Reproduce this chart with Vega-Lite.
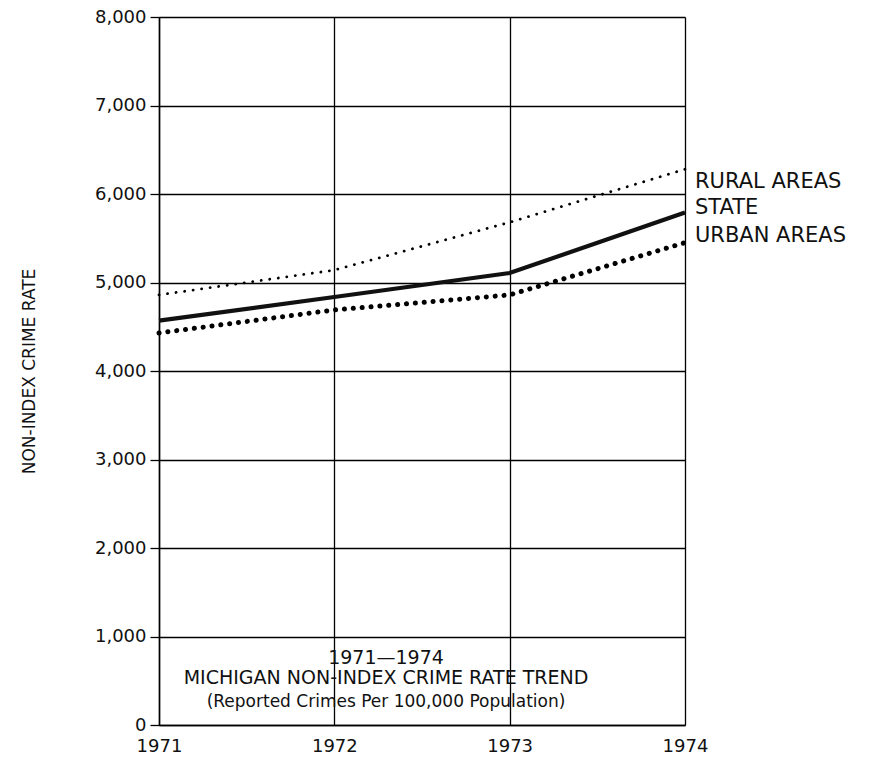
{
  "$schema": "https://vega.github.io/schema/vega-lite/v6.json",
  "width": 526,
  "height": 708,
  "autosize": {"type": "none"},
  "padding": {"left": 159, "top": 17, "right": 184, "bottom": 33},
  "background": "white",
  "config": {
    "view": {"stroke": null},
    "font": "DejaVu Sans",
    "axis": {"labelFont": "DejaVu Sans", "titleFont": "DejaVu Sans", "labelColor": "#111", "titleColor": "#111"}
  },
  "title": {
    "text": ["1971—1974", "MICHIGAN NON-INDEX CRIME RATE TREND"],
    "subtitle": "(Reported Crimes Per 100,000 Population)",
    "orient": "bottom",
    "anchor": "middle",
    "frame": "group",
    "offset": -106,
    "dx": -36,
    "font": "DejaVu Sans",
    "subtitleFont": "DejaVu Sans",
    "fontSize": 19,
    "fontWeight": "normal",
    "lineHeight": 20,
    "color": "#111",
    "subtitleFontSize": 17,
    "subtitleColor": "#111",
    "subtitlePadding": 6
  },
  "data": {
    "values": [
      {"year": 1971, "series": "RURAL AREAS", "rate": 4860},
      {"year": 1972, "series": "RURAL AREAS", "rate": 5140},
      {"year": 1973, "series": "RURAL AREAS", "rate": 5680},
      {"year": 1974, "series": "RURAL AREAS", "rate": 6280},
      {"year": 1971, "series": "STATE", "rate": 4570},
      {"year": 1972, "series": "STATE", "rate": 4836},
      {"year": 1973, "series": "STATE", "rate": 5107},
      {"year": 1974, "series": "STATE", "rate": 5790},
      {"year": 1971, "series": "URBAN AREAS", "rate": 4430},
      {"year": 1972, "series": "URBAN AREAS", "rate": 4690},
      {"year": 1973, "series": "URBAN AREAS", "rate": 4860},
      {"year": 1974, "series": "URBAN AREAS", "rate": 5450}
    ]
  },
  "encoding": {
    "x": {
      "field": "year", "type": "quantitative",
      "scale": {"domain": [1971, 1974], "nice": false, "zero": false},
      "axis": {
        "values": [1971, 1972, 1973, 1974], "format": "d", "title": null,
        "grid": true, "gridColor": "#000", "gridWidth": 1.3, "gridOpacity": 1,
        "domainColor": "#000", "domainWidth": 1.5, "ticks": false,
        "labelFontSize": 18, "labelPadding": 12, "labelFlush": false
      }
    },
    "y": {
      "field": "rate", "type": "quantitative",
      "scale": {"domain": [0, 8000], "nice": false},
      "axis": {
        "values": [0, 1000, 2000, 3000, 4000, 5000, 6000, 7000, 8000], "format": ",d",
        "title": "NON-INDEX CRIME RATE", "titleFontSize": 17, "titleFontWeight": "normal",
        "titlePadding": 56, "grid": true, "gridColor": "#000", "gridWidth": 1.3, "gridOpacity": 1,
        "domainColor": "#000", "domainWidth": 1.5, "tickColor": "#000", "tickSize": 9, "tickWidth": 1.3,
        "labelFontSize": 18, "labelPadding": 4
      }
    }
  },
  "layer": [
    {
      "transform": [{"filter": "datum.series === 'RURAL AREAS'"}],
      "mark": {"type": "line", "color": "#000", "strokeWidth": 2.8, "strokeCap": "round", "strokeDash": [0.1, 8.5]}
    },
    {
      "transform": [{"filter": "datum.series === 'URBAN AREAS'"}],
      "mark": {"type": "line", "color": "#000", "strokeWidth": 5, "strokeCap": "round", "strokeDash": [0.1, 8.8]}
    },
    {
      "transform": [{"filter": "datum.series === 'STATE'"}],
      "mark": {"type": "line", "color": "#111", "strokeWidth": 4.2}
    },
    {
      "transform": [{"filter": "datum.series === 'RURAL AREAS' && datum.year === 1974"}],
      "mark": {"type": "text", "align": "left", "baseline": "middle", "dx": 10, "dy": 13, "fontSize": 21, "font": "DejaVu Sans", "color": "#111"},
      "encoding": {"text": {"field": "series"}}
    },
    {
      "transform": [{"filter": "datum.series === 'STATE' && datum.year === 1974"}],
      "mark": {"type": "text", "align": "left", "baseline": "middle", "dx": 10, "dy": -5, "fontSize": 21, "font": "DejaVu Sans", "color": "#111"},
      "encoding": {"text": {"field": "series"}}
    },
    {
      "transform": [{"filter": "datum.series === 'URBAN AREAS' && datum.year === 1974"}],
      "mark": {"type": "text", "align": "left", "baseline": "middle", "dx": 10, "dy": -7, "fontSize": 21, "font": "DejaVu Sans", "color": "#111"},
      "encoding": {"text": {"field": "series"}}
    }
  ]
}
